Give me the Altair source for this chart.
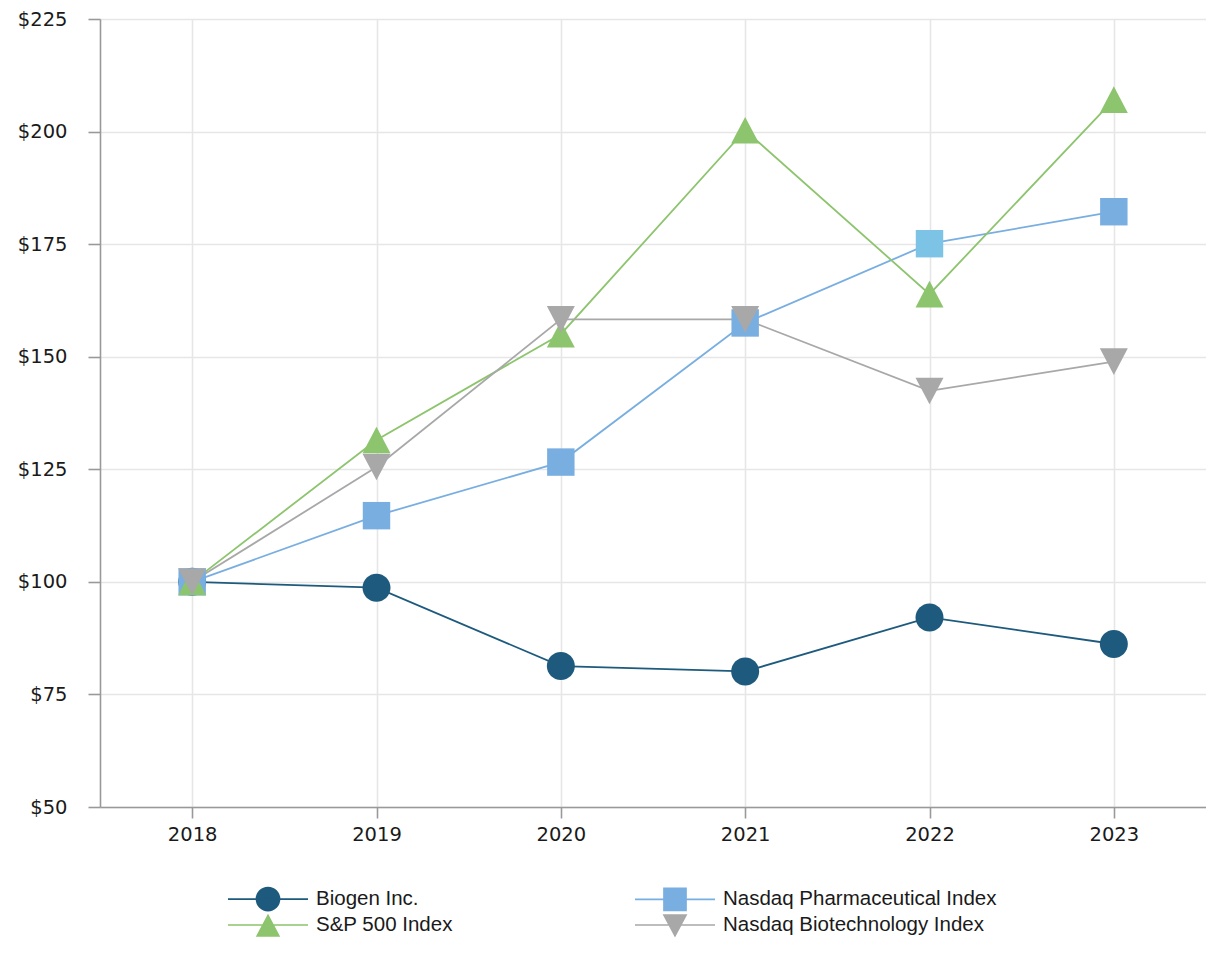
import sys
import altair as alt
import pandas as pd

years = ["2018", "2019", "2020", "2021", "2022", "2023"]
series_names = ["Biogen Inc.", "Nasdaq Pharmaceutical Index", "S&P 500 Index", "Nasdaq Biotechnology Index"]
biogen = [100, 98.7, 81.3, 80.1, 92.1, 86.2]
pharma = [100, 114.7, 126.6, 157.5, 175.1, 182.2]
sp500 = [100, 131.5, 155.0, 200.3, 163.9, 207.1]
biotech = [100, 125.5, 158.3, 158.3, 142.4, 148.9]
y_ticks = [50, 75, 100, 125, 150, 175, 200, 225]

colors = ["#1D5A7D", "#79AEE1", "#8DC46E", "#A8A8A8"]

# legend is filled column by column: Biogen / S&P in the first column
legend_order = [series_names[0], series_names[2], series_names[1], series_names[3]]

rows = []
for name, vals in zip(series_names, [biogen, pharma, sp500, biotech]):
    for yr, v in zip(years, vals):
        rows.append({"year": yr, "series": name, "value": v})
df = pd.DataFrame(rows)

plot_shapes = [
    "M1,0A1,1,0,1,1,-1,0A1,1,0,1,1,1,0Z",
    "M-0.98,-0.98H0.98V0.98H-0.98Z",
    "M0,-0.95L1,0.95L-1,0.95Z",
    "M-1,-0.95L1,-0.95L0,0.95Z",
]
legend_shapes = [
    "M-4,0H4M1.15,0A1.15,1.15,0,1,1,-1.15,0A1.15,1.15,0,1,1,1.15,0Z",
    "M-4,0H4M-1.1,-1.1H1.1V1.1H-1.1Z",
    "M-4,0H4M0,-0.95L1.08,1.1L-1.08,1.1Z",
    "M-4,0H4M-1.1,-1.0L1.1,-1.0L0,1.06Z",
]
color_of = dict(zip(series_names, colors))
lshape_of = dict(zip(series_names, legend_shapes))

AX_FONT = "DejaVu Sans"
LG_FONT = "Liberation Sans"
TXT = "#1a1a1a"

try:
    color_scale = alt.Scale(domain=legend_order, range=[color_of[n] for n in legend_order])

    legend = alt.Legend(
        title=None,
        orient="none",
        legendX=157,
        legendY=869,
        columns=2,
        symbolSize=400,
        symbolStrokeWidth=1.7,
        symbolOpacity=1,
        labelOffset=37,
        labelFont=LG_FONT,
        labelFontSize=20.5,
        labelColor=TXT,
        labelLimit=400,
        rowPadding=-6.2,
        columnPadding=178,
        padding=0,
    )

    x_enc = alt.X(
        "year:O",
        sort=years,
        scale=alt.Scale(type="point", padding=0.5),
        axis=alt.Axis(
            title=None, labelAngle=0, labelFont=AX_FONT, labelFontSize=19.5, labelColor=TXT,
            labelPadding=7, tickSize=11, tickColor="#999999", tickWidth=1.6,
            domainColor="#999999", domainWidth=1.6,
            grid=True, gridColor="#E6E6E6", gridWidth=1.6,
        ),
    )
    y_enc = alt.Y(
        "value:Q",
        scale=alt.Scale(domain=[50, 225], nice=False, zero=False),
        axis=alt.Axis(
            title=None, values=y_ticks, format="$.0f", labelFont=AX_FONT, labelFontSize=19.5,
            labelColor=TXT, labelPadding=21, tickSize=12, tickColor="#999999", tickWidth=1.6,
            domainColor="#999999", domainWidth=1.6,
            grid=True, gridColor="#E6E6E6", gridWidth=1.6,
        ),
    )

    base = alt.Chart(df)

    # legend carrier: draws no marks, only supplies the legend symbols
    carrier = base.transform_filter("false").mark_point(
        filled=True, opacity=1, size=400, strokeWidth=1.7
    ).encode(
        x=x_enc,
        y=y_enc,
        color=alt.Color("series:N", scale=color_scale, legend=legend),
        stroke=alt.Stroke("series:N", scale=alt.Scale(domain=legend_order, range=[color_of[n] for n in legend_order]), legend=legend),
        shape=alt.Shape("series:N", scale=alt.Scale(domain=legend_order, range=[lshape_of[n] for n in legend_order]), legend=legend),
    )

    lines = base.mark_line(strokeWidth=1.8).encode(
        x=x_enc,
        y=y_enc,
        color=alt.Color("series:N", scale=color_scale, legend=legend),
        detail="series:N",
    )

    point_layers = []
    for name, shp in zip(series_names, plot_shapes):
        point_layers.append(
            base.transform_filter(alt.datum.series == name)
            .mark_point(filled=True, opacity=1, size=784, strokeWidth=0, shape=shp)
            .encode(
                x=x_enc,
                y=y_enc,
                color=alt.condition(
                    "datum.series == 'Nasdaq Pharmaceutical Index' && datum.year == '2022'",
                    alt.value("#7DC3E6"),
                    alt.Color("series:N", scale=color_scale, legend=legend),
                ),
            )
        )

    chart = alt.layer(carrier, lines, *point_layers).properties(
        width=1106,
        height=788,
        padding={"left": 9, "top": 1, "right": 0, "bottom": 0},
    ).configure_view(stroke=None).configure(background="white")

    chart.save("out.html", embed_options={"renderer": "svg", "actions": False})
except Exception as e:
    msg = str(e)
    sys.stderr.write("\n\nERRHEAD: " + msg[:600].replace("\n", " | ") + "\n")
    raise SystemExit(1)
